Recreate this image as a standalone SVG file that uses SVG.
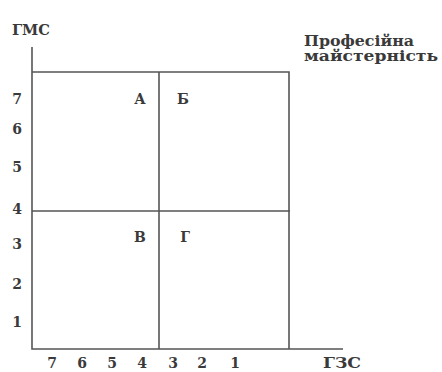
<svg xmlns="http://www.w3.org/2000/svg" width="442" height="372" viewBox="0 0 442 372">
<style>
.ln{fill:none;stroke:#555;stroke-width:1.6}
.t{font-family:"DejaVu Serif","Liberation Serif",serif;font-weight:bold;fill:#3a3a3a;font-size:14px}
.n{font-family:"DejaVu Serif","Liberation Serif",serif;font-weight:bold;fill:#3a3a3a;font-size:14px;text-anchor:middle}
</style>
<rect width="442" height="372" fill="#fff"/>
<g id="connectors">
<path class="ln" d="M32,47 V349 H343"/>
<path class="ln" d="M32,72 H289 V349"/>
<path class="ln" d="M159,72 V349"/>
<path class="ln" d="M32,211 H290"/>
</g>
<g id="axis-y-label"><text class="t" x="12" y="35" textLength="38" lengthAdjust="spacingAndGlyphs">ГМС</text></g>
<g id="mastery-label"><text class="t" x="304" y="46" textLength="110" lengthAdjust="spacingAndGlyphs">Професійна</text><text class="t" x="304" y="61" textLength="134" lengthAdjust="spacingAndGlyphs">майстерність</text></g>
<g id="axis-x-label"><text class="t" x="323" y="368" textLength="38" lengthAdjust="spacingAndGlyphs">ГЗС</text></g>
<g id="y-ticks">
<text class="n" x="17" y="104">7</text>
<text class="n" x="17" y="134">6</text>
<text class="n" x="17" y="172">5</text>
<text class="n" x="17" y="214">4</text>
<text class="n" x="17" y="249">3</text>
<text class="n" x="17" y="289">2</text>
<text class="n" x="17" y="327">1</text>
</g>
<g id="x-ticks">
<text class="n" x="52" y="368">7</text>
<text class="n" x="82" y="368">6</text>
<text class="n" x="112" y="368">5</text>
<text class="n" x="142" y="368">4</text>
<text class="n" x="173" y="368">3</text>
<text class="n" x="202" y="368">2</text>
<text class="n" x="235" y="368">1</text>
</g>
<g id="quadrant-A"><text class="n" x="140" y="104">А</text></g>
<g id="quadrant-B"><text class="n" x="183" y="104">Б</text></g>
<g id="quadrant-V"><text class="n" x="140" y="242">В</text></g>
<g id="quadrant-G"><text class="n" x="185" y="242">Г</text></g>
</svg>
